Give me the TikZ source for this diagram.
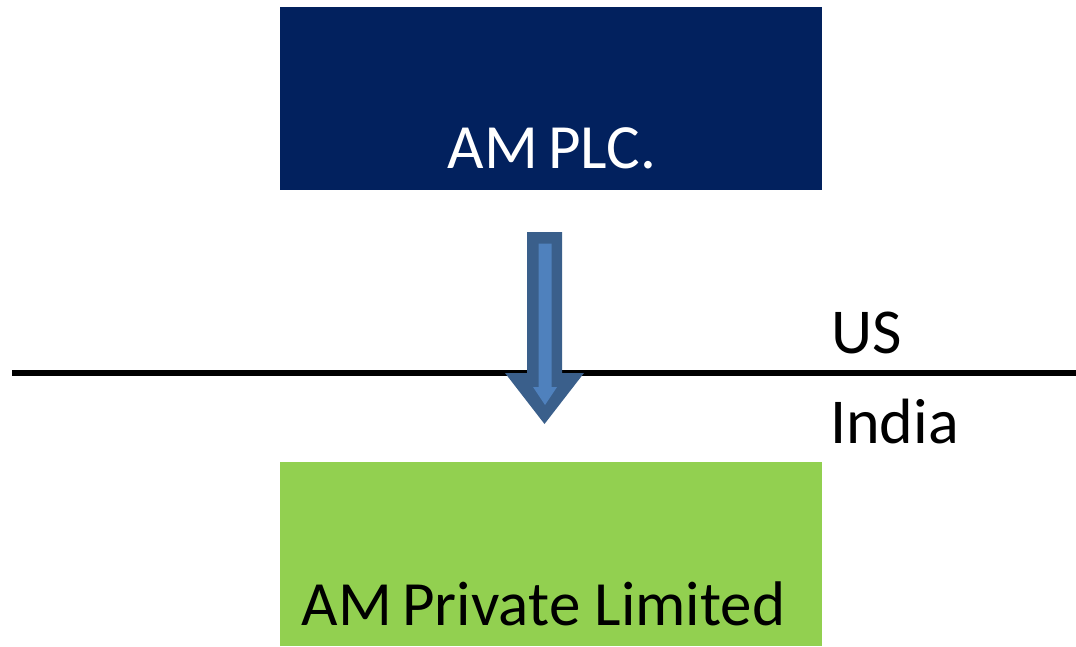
\documentclass[tikz,border=0pt]{standalone}
\usepackage{fontspec}
\setmainfont{Carlito}
\definecolor{navybox}{HTML}{02215E}
\definecolor{greenbox}{HTML}{92D050}
\definecolor{arrowdark}{HTML}{3A5F8B}
\definecolor{arrowlight}{HTML}{4F81BD}
\tikzset{
  entity/.style={draw=none, minimum width=542pt, inner sep=0pt, outer sep=0pt},
  bigtext/.style={font=\fontsize{63}{70}\selectfont, inner sep=0pt, anchor=base},
  regiontext/.style={font=\fontsize{64}{70}\selectfont, inner sep=0pt, anchor=base west, text=black},
}
\begin{document}
\begin{tikzpicture}[x=1pt,y=-1pt]
\useasboundingbox (0,0) rectangle (1076,646);
% boxes
\node[entity, fill=navybox, minimum height=183pt] (plc) at (551,98.5) {};
\node[entity, fill=greenbox, minimum height=184pt] (pvt) at (551,554) {};
\node[bigtext, text=white] (plctext) at (552,168) {AM\kern-4pt\ PLC.};
\node[bigtext, text=black] (pvttext) at (543.5,625) {AM\kern-4pt\ Private Limited};
% border line
\coordinate (lineL) at (12,373);
\coordinate (lineR) at (1076,373);
\draw[line width=5.5pt, black] (lineL) -- (lineR);
% labels
\node[regiontext] (us) at (831,353) {US};
\node[regiontext] (india) at (830,443) {India};
% block arrow
\fill[arrowdark] (527,232) -- (562,232) -- (562,373) -- (584,373) -- (544.5,424) -- (505,373) -- (527,373) -- cycle;
\fill[arrowlight] (538.5,243.5) -- (551.5,243.5) -- (551.5,387) -- (557,387) -- (545,405) -- (533,387) -- (538.5,387) -- cycle;
\end{tikzpicture}
\end{document}
